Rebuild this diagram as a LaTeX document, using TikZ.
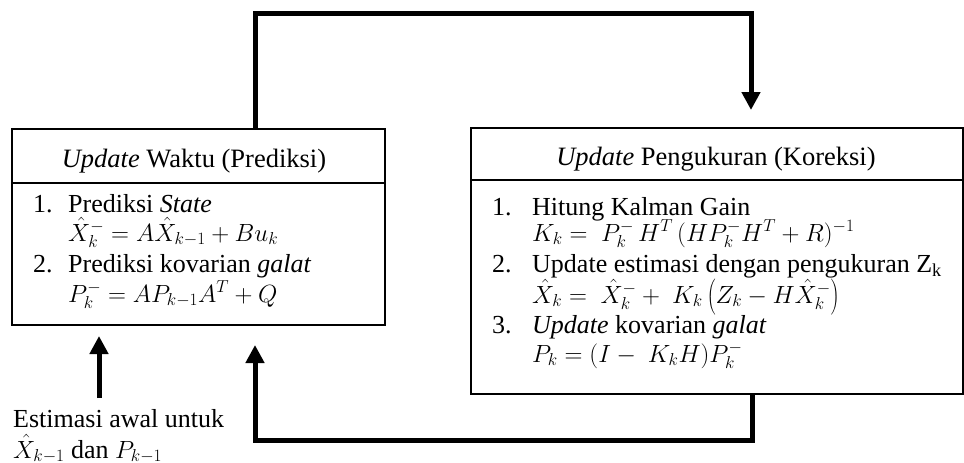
\documentclass[tikz,border=0pt]{standalone}
\usepackage{fontspec}
\setmainfont{Liberation Serif}
\usetikzlibrary{arrows.meta}
\begin{document}
\begin{tikzpicture}[x=1pt,y=-1pt,
  box/.style={draw, line width=1.8pt, anchor=north west, inner sep=0pt},
  txt/.style={anchor=base west, inner sep=0pt, font=\fontsize{26}{30}\selectfont},
  head/.style={anchor=base, inner sep=0pt, font=\fontsize{26.5}{30}\selectfont},
  flow/.style={line width=5pt, -{Triangle[width=18pt,length=18pt]}},
  loop/.style={line width=5pt}]
\useasboundingbox (0,0) rectangle (964,463);

% time update box
\node[box, minimum width=373pt, minimum height=196pt] (pred) at (11,128) {};
\draw[line width=1.8pt] (pred.west |- 0,183) -- (pred.east |- 0,183);
\node[head] (predh) at (194,167) {\textit{Update} Waktu (Prediksi)};
\node[txt] (p1n) at (33,212) {1.};
\node[txt] (p1) at (68,212) {Prediksi \textit{State}};
\node[txt] (p1f) at (68,241) {$\hat{X}_k^- = A\hat{X}_{k-1} + Bu_k$};
\node[txt] (p2n) at (33,272) {2.};
\node[txt] (p2) at (68,272) {Prediksi kovarian \textit{galat}};
\node[txt] (p2f) at (68,302) {$P_k^- = AP_{k-1}A^T + Q$};

% measurement update box
\node[box, minimum width=492pt, minimum height=266pt] (corr) at (470,127) {};
\draw[line width=1.8pt] (corr.west |- 0,180) -- (corr.east |- 0,180);
\node[head] (corrh) at (716,165) {\textit{Update} Pengukuran (Koreksi)};
\node[txt] (c1n) at (492,215) {1.};
\node[txt] (c1) at (532,215) {Hitung Kalman Gain};
\node[txt] (c1f) at (532,241) {$K_k = \ P_k^-\, H^T\,(HP_k^-H^T + R)^{-1}$};
\node[txt] (c2n) at (492,272) {2.};
\node[txt] (c2) at (532,272) {Update estimasi dengan pengukuran Z\textsubscript{k}};
\node[txt] (c2f) at (532,303) {$\hat{X}_k = \ \hat{X}_k^- + \ K_k\left(Z_k - H\hat{X}_k^-\right)$};
\node[txt] (c3n) at (492,333) {3.};
\node[txt] (c3) at (532,333) {\textit{Update} kovarian \textit{galat}};
\node[txt] (c3f) at (532,362) {$P_k = (I - \ K_kH)P_k^-$};

% initial estimate
\node[txt] (init1) at (13,427) {Estimasi awal untuk};
\node[txt] (init2) at (13,458) {$\hat{X}_{k-1}$ dan $P_{k-1}$};
\coordinate (initbot) at (99,398);
\draw[flow] (initbot) -- (99,336);

% loop connectors
\coordinate (topl) at (255,13);
\coordinate (topr) at (751,13);
\draw[flow] (pred.north -| topl) -- (topl) -- (topr) -- (topr |- 0,110);
\coordinate (botr) at (752,440);
\coordinate (botl) at (255,440);
\draw[flow] (corr.south -| botr) -- (botr) -- (botl) -- (255,345);
\end{tikzpicture}
\end{document}
